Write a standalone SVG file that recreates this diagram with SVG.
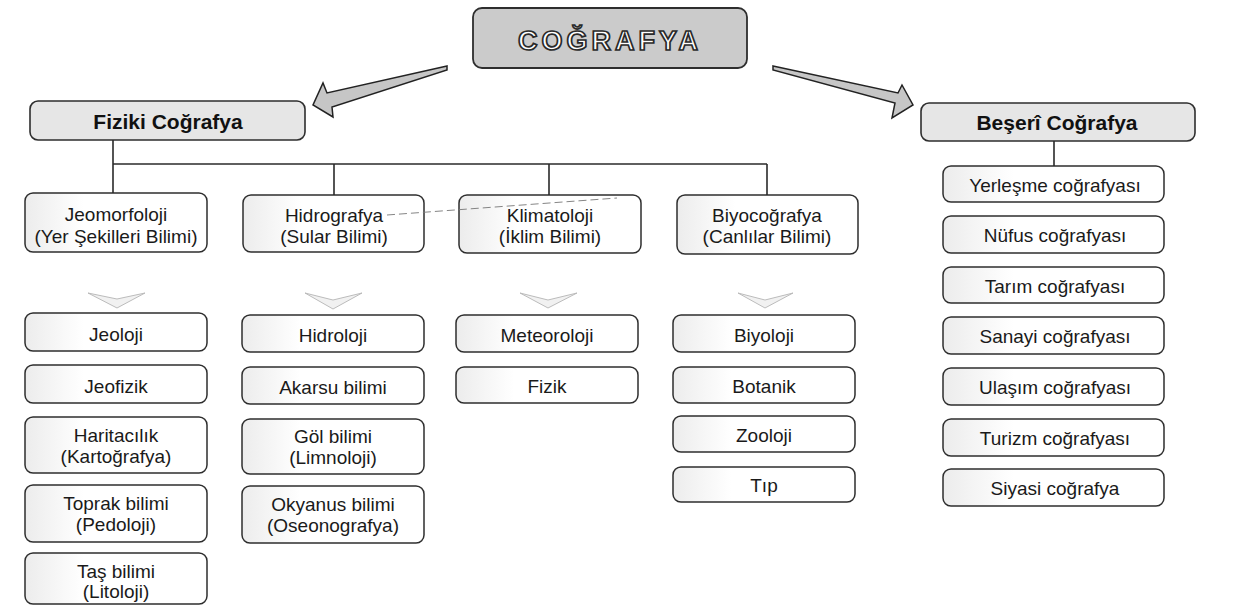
<svg xmlns="http://www.w3.org/2000/svg" width="1238" height="606" viewBox="0 0 1238 606">
<defs>
<linearGradient id="fade" x1="0" y1="0" x2="1" y2="0">
<stop offset="0" stop-color="#ececec"/>
<stop offset="0.2" stop-color="#f8f8f8"/>
<stop offset="0.32" stop-color="#ffffff"/>
<stop offset="1" stop-color="#ffffff"/>
</linearGradient>
<style>
.box{fill:url(#fade);stroke:#2e2e2e;stroke-width:1.5}
.head{fill:#e6e6e6;stroke:#2e2e2e;stroke-width:1.6}
.top{fill:#cbcbcb;stroke:#2e2e2e;stroke-width:1.8}
.t{font-family:"Liberation Sans",Arial,Helvetica,sans-serif;font-size:19px;fill:#1a1a1a;text-anchor:middle}
.hb{font-family:"Liberation Sans",Arial,Helvetica,sans-serif;font-size:21px;font-weight:bold;fill:#111;text-anchor:middle}
.ttl{font-family:"Liberation Sans",Arial,Helvetica,sans-serif;font-size:27px;font-weight:bold;fill:#ffffff;stroke:#2a2a2a;stroke-width:1.7;letter-spacing:4px;text-anchor:middle}
.ln{stroke:#2a2a2a;stroke-width:1.6;fill:none}
.arr{fill:#c6c6c6;stroke:#222;stroke-width:1.5;stroke-linejoin:miter}
.chev{fill:#f1f1f1;stroke:#b4b4b4;stroke-width:0.9}
</style>
</defs>

<g id="cografya">
<rect class="top" x="473" y="8" width="274" height="60" rx="9"/>
<text class="ttl" x="610" y="50">COĞRAFYA</text>
</g>

<g id="fiziki">
<rect class="head" x="30" y="101" width="275" height="39" rx="8"/>
<text class="hb" x="168" y="129">Fiziki Coğrafya</text>
</g>

<g id="beseri">
<rect class="head" x="921" y="103" width="274" height="38" rx="8"/>
<text class="hb" x="1057" y="130">Beşerî Coğrafya</text>
</g>

<g id="jeomorfoloji">
<rect class="box" x="25" y="193" width="182" height="59" rx="8"/>
<text class="t" x="116" y="221">Jeomorfoloji</text>
<text class="t" x="116" y="243">(Yer Şekilleri Bilimi)</text>
</g>
<g id="hidrografya">
<rect class="box" x="243" y="195" width="181" height="57" rx="8"/>
<text class="t" x="334" y="222">Hidrografya</text>
<text class="t" x="334" y="243">(Sular Bilimi)</text>
</g>
<g id="klimatoloji">
<rect class="box" x="459" y="195" width="182" height="58" rx="8"/>
<text class="t" x="550" y="222">Klimatoloji</text>
<text class="t" x="550" y="243">(İklim Bilimi)</text>
</g>
<g id="biyocografya">
<rect class="box" x="677" y="195" width="181" height="59" rx="8"/>
<text class="t" x="767" y="222">Biyocoğrafya</text>
<text class="t" x="767" y="243">(Canlılar Bilimi)</text>
</g>

<g id="jeoloji"><rect class="box" x="25" y="313" width="182" height="38" rx="8"/><text class="t" x="116" y="341">Jeoloji</text></g>
<g id="jeofizik"><rect class="box" x="25" y="365" width="182" height="38" rx="8"/><text class="t" x="116" y="393">Jeofizik</text></g>
<g id="haritacilik"><rect class="box" x="25" y="417" width="182" height="56" rx="8"/><text class="t" x="116" y="442">Haritacılık</text><text class="t" x="116" y="463">(Kartoğrafya)</text></g>
<g id="toprak"><rect class="box" x="25" y="485" width="182" height="57" rx="8"/><text class="t" x="116" y="510">Toprak bilimi</text><text class="t" x="116" y="531">(Pedoloji)</text></g>
<g id="tas"><rect class="box" x="25" y="553" width="182" height="51" rx="8"/><text class="t" x="116" y="578">Taş bilimi</text><text class="t" x="116" y="598">(Litoloji)</text></g>

<g id="hidroloji"><rect class="box" x="242" y="315" width="182" height="37" rx="8"/><text class="t" x="333" y="342">Hidroloji</text></g>
<g id="akarsu"><rect class="box" x="242" y="367" width="182" height="37" rx="8"/><text class="t" x="333" y="394">Akarsu bilimi</text></g>
<g id="gol"><rect class="box" x="242" y="419" width="182" height="55" rx="8"/><text class="t" x="333" y="443">Göl bilimi</text><text class="t" x="333" y="464">(Limnoloji)</text></g>
<g id="okyanus"><rect class="box" x="242" y="486" width="182" height="57" rx="8"/><text class="t" x="333" y="511">Okyanus bilimi</text><text class="t" x="333" y="532">(Oseonografya)</text></g>

<g id="meteoroloji"><rect class="box" x="456" y="315" width="182" height="37" rx="8"/><text class="t" x="547" y="342">Meteoroloji</text></g>
<g id="fizik"><rect class="box" x="456" y="367" width="182" height="36" rx="8"/><text class="t" x="547" y="393">Fizik</text></g>

<g id="biyoloji"><rect class="box" x="673" y="315" width="182" height="37" rx="8"/><text class="t" x="764" y="342">Biyoloji</text></g>
<g id="botanik"><rect class="box" x="673" y="367" width="182" height="36" rx="8"/><text class="t" x="764" y="393">Botanik</text></g>
<g id="zooloji"><rect class="box" x="673" y="416" width="182" height="36" rx="8"/><text class="t" x="764" y="442">Zooloji</text></g>
<g id="tip"><rect class="box" x="673" y="467" width="182" height="35" rx="8"/><text class="t" x="764" y="492">Tıp</text></g>

<g id="yerlesme"><rect class="box" x="943" y="166" width="221" height="36" rx="8"/><text class="t" x="1055" y="192">Yerleşme coğrafyası</text></g>
<g id="nufus"><rect class="box" x="943" y="216" width="221" height="37" rx="8"/><text class="t" x="1055" y="242">Nüfus coğrafyası</text></g>
<g id="tarim"><rect class="box" x="943" y="267" width="221" height="36" rx="8"/><text class="t" x="1055" y="293">Tarım coğrafyası</text></g>
<g id="sanayi"><rect class="box" x="943" y="317" width="221" height="37" rx="8"/><text class="t" x="1055" y="343">Sanayi coğrafyası</text></g>
<g id="ulasim"><rect class="box" x="943" y="368" width="221" height="37" rx="8"/><text class="t" x="1055" y="394">Ulaşım coğrafyası</text></g>
<g id="turizm"><rect class="box" x="943" y="419" width="221" height="37" rx="8"/><text class="t" x="1055" y="445">Turizm coğrafyası</text></g>
<g id="siyasi"><rect class="box" x="943" y="469" width="221" height="37" rx="8"/><text class="t" x="1055" y="495">Siyasi coğrafya</text></g>

<g id="connectors">
<polygon class="arr" points="447,66 327,93 323,83 313,105 333,117 332,107 447,70"/>
<polygon class="arr" points="773,66 898,93 902,85 913,105 892,118 895,103 773,70"/>
<line class="ln" x1="113" y1="140" x2="113" y2="193"/>
<line class="ln" x1="113" y1="164" x2="767" y2="164"/>
<line class="ln" x1="334" y1="164" x2="334" y2="195"/>
<line class="ln" x1="549" y1="164" x2="549" y2="195"/>
<line class="ln" x1="767" y1="164" x2="767" y2="195"/>
<line class="ln" x1="1054" y1="141" x2="1054" y2="166"/>
<line x1="387" y1="215" x2="617" y2="198" stroke="#777" stroke-width="0.9" stroke-dasharray="8,4"/>
<polygon class="chev" points="88,293 117,299 145,293 117,308"/>
<polygon class="chev" points="305,293 333,300 362,293 333,309"/>
<polygon class="chev" points="520,293 548,300 577,293 548,308"/>
<polygon class="chev" points="738,293 765,300 793,293 765,308"/>
</g>
</svg>
